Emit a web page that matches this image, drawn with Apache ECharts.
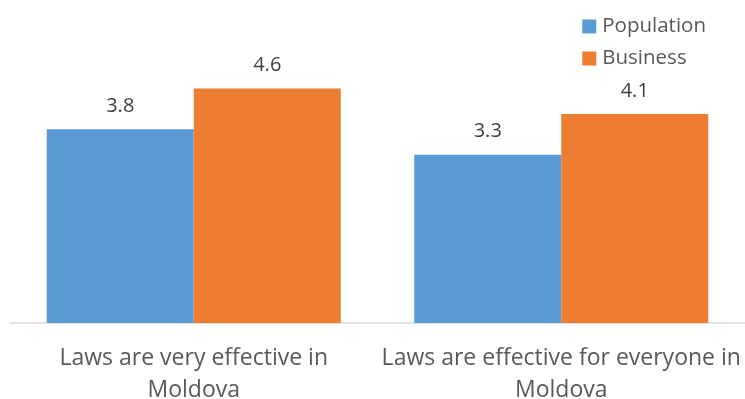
<!DOCTYPE html>
<html>
<head>
<meta charset="utf-8">
<script src="https://cdn.jsdelivr.net/npm/echarts@6/dist/echarts.min.js"></script>
<style>html,body{margin:0;padding:0;background:#fff}#c{width:745px;height:399px}</style>
</head>
<body>
<div id="c"></div>
<script>
const categories = ["Laws are very effective in\nMoldova", "Laws are effective for everyone in\nMoldova"];
const population = [3.8, 3.3];
const business = [4.6, 4.1];
const seriesNames = ["Population", "Business"];

const chart = echarts.init(document.getElementById('c'), null, {renderer: 'canvas'});
const font = '"Open Sans", sans-serif';
chart.setOption({
  animation: false,
  textStyle: {fontFamily: font},
  legend: {
    orient: 'vertical', right: 34, top: 8,
    itemWidth: 14, itemHeight: 14, itemGap: 5, icon: 'rect',
    textStyle: {fontSize: 20.5, lineHeight: 27, color: '#595959', fontFamily: font, padding: [0,0,0,1]},
    data: seriesNames
  },
  grid: {left: 10, right: 0, top: 68, bottom: 76, containLabel: false, outerBoundsMode: 'none'},
  xAxis: {
    type: 'category', data: categories,
    axisLine: {lineStyle: {color: '#D9D9D9', width: 1.5}},
    axisTick: {show: false},
    axisLabel: {fontSize: 23, color: '#595959', lineHeight: 32, margin: 19, fontFamily: font, interval: 0}
  },
  yAxis: {type: 'value', min: 0, max: 5, show: false, splitLine: {show: false}},
  series: [
    {name: seriesNames[0], type: 'bar', data: population, barGap: '0%', barCategoryGap: '20%',
     itemStyle: {color: '#5B9BD5'},
     label: {show: true, position: 'top', distance: 13, fontSize: 20, color: '#404040', fontFamily: font}},
    {name: seriesNames[1], type: 'bar', data: business, barGap: '0%', barCategoryGap: '20%',
     itemStyle: {color: '#ED7D31'},
     label: {show: true, position: 'top', distance: 13, fontSize: 20, color: '#404040', fontFamily: font}}
  ]
});
</script>
</body>
</html>
